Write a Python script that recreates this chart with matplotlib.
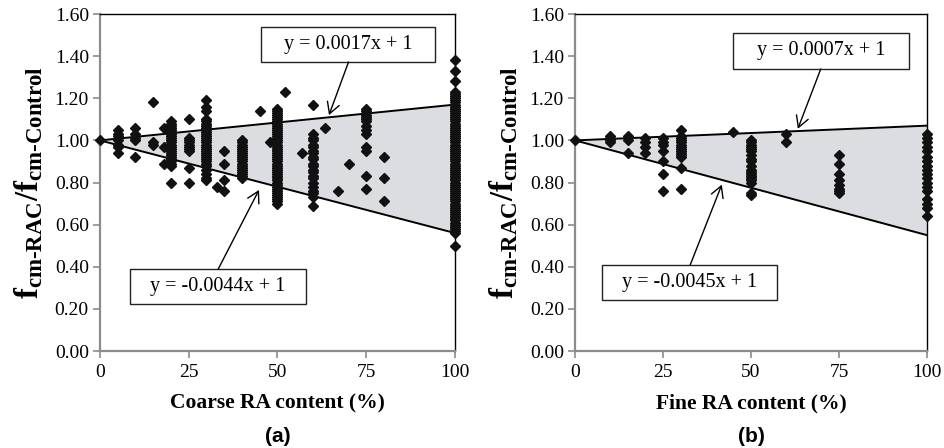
import matplotlib
matplotlib.use("Agg")
import matplotlib.pyplot as plt
from matplotlib.patches import Rectangle

plt.rcParams['font.family'] = ['Liberation Serif', 'DejaVu Serif']
plt.rcParams['mathtext.fontset'] = 'custom'
plt.rcParams['mathtext.rm'] = 'Liberation Serif'
plt.rcParams['mathtext.bf'] = 'Liberation Serif:bold'
plt.rcParams['mathtext.it'] = 'Liberation Serif:italic'

# ---- data: coarse RA replacement (a) ----
coarse_x = ([0] + [5] * 7 + [10] * 5 + [15] * 3 + [18] * 3 + [20] * 23 + [25] * 10
            + [30] * 30 + [33] + [35] * 4 + [40] * 19 + [45] + [48] + [50] * 46
            + [52] + [57] + [60] * 22 + [63.5] + [67] + [70] + [75] * 13 + [80] * 3
            + [100] * 72)
coarse_y = ([1.00]
            + [1.05, 1.03, 1.02, 1.00, 0.98, 0.97, 0.94]
            + [1.06, 1.03, 1.01, 1.00, 0.92]
            + [1.18, 0.99, 0.98]
            + [1.06, 0.97, 0.89]
            + [1.09, 1.08, 1.07, 1.06, 1.05, 1.04, 1.03, 1.02, 1.01, 1.00, 0.99, 0.98,
               0.97, 0.96, 0.95, 0.94, 0.93, 0.92, 0.91, 0.90, 0.89, 0.88, 0.80]
            + [1.10, 1.01, 1.00, 0.99, 0.98, 0.97, 0.96, 0.95, 0.87, 0.80]
            + [1.19, 1.16, 1.14, 1.10, 1.09, 1.08, 1.07, 1.06, 1.05, 1.04, 1.03, 1.02,
               1.01, 1.00, 0.99, 0.98, 0.97, 0.96, 0.95, 0.94, 0.93, 0.92, 0.91, 0.90,
               0.89, 0.88, 0.86, 0.84, 0.82, 0.81]
            + [0.78]
            + [0.95, 0.89, 0.81, 0.76]
            + [1.00, 0.99, 0.98, 0.97, 0.96, 0.95, 0.94, 0.93, 0.92, 0.91, 0.90, 0.89,
               0.88, 0.87, 0.86, 0.85, 0.84, 0.83, 0.82]
            + [1.14]
            + [0.99]
            + [1.15, 1.14, 1.13, 1.12, 1.11, 1.10, 1.09, 1.08, 1.07, 1.06, 1.05, 1.04,
               1.03, 1.02, 1.01, 1.00, 0.99, 0.98, 0.97, 0.96, 0.95, 0.94, 0.93, 0.92,
               0.91, 0.90, 0.89, 0.88, 0.87, 0.86, 0.85, 0.84, 0.83, 0.82, 0.81, 0.80,
               0.79, 0.78, 0.77, 0.76, 0.75, 0.74, 0.73, 0.72, 0.71, 0.70]
            + [1.23]
            + [0.94]
            + [1.17, 1.03, 1.01, 1.00, 0.98, 0.97, 0.95, 0.94, 0.92, 0.91, 0.89, 0.88,
               0.86, 0.85, 0.83, 0.82, 0.80, 0.78, 0.76, 0.75, 0.73, 0.69]
            + [1.06]
            + [0.76]
            + [0.89]
            + [1.15, 1.14, 1.12, 1.11, 1.10, 1.09, 1.07, 1.05, 1.03, 0.97, 0.95, 0.83, 0.77]
            + [0.92, 0.82, 0.71]
            + [1.38, 1.33, 1.28, 1.23, 1.22, 1.21, 1.20, 1.19, 1.18, 1.17, 1.16, 1.15,
               1.14, 1.13, 1.12, 1.11, 1.10, 1.09, 1.08, 1.07, 1.06, 1.05, 1.04, 1.03,
               1.02, 1.01, 1.00, 0.99, 0.98, 0.97, 0.96, 0.95, 0.94, 0.93, 0.92, 0.91,
               0.90, 0.89, 0.88, 0.87, 0.86, 0.85, 0.84, 0.83, 0.82, 0.81, 0.80, 0.79,
               0.78, 0.77, 0.76, 0.75, 0.74, 0.73, 0.72, 0.71, 0.70, 0.69, 0.68, 0.67,
               0.66, 0.65, 0.64, 0.63, 0.62, 0.61, 0.60, 0.59, 0.58, 0.57, 0.56, 0.50])

# ---- data: fine RA replacement (b) ----
fine_x = ([0] + [10] * 4 + [15] * 3 + [20] * 4 + [25] * 7 + [30] * 14 + [45]
          + [50] * 19 + [60] * 2 + [75] * 8 + [100] * 18)
fine_y = ([1.00]
          + [1.02, 1.01, 1.00, 0.99]
          + [1.02, 1.00, 0.94]
          + [1.01, 0.99, 0.97, 0.94]
          + [1.01, 0.99, 0.98, 0.95, 0.90, 0.84, 0.76]
          + [1.05, 1.02, 1.01, 1.00, 0.99, 0.98, 0.97, 0.96, 0.95, 0.94, 0.93, 0.92,
             0.87, 0.77]
          + [1.04]
          + [1.00, 0.99, 0.98, 0.97, 0.96, 0.95, 0.93, 0.91, 0.90, 0.88, 0.86, 0.85,
             0.84, 0.83, 0.82, 0.81, 0.80, 0.75, 0.74]
          + [1.03, 0.99]
          + [0.93, 0.89, 0.84, 0.81, 0.79, 0.77, 0.76, 0.75]
          + [1.03, 1.01, 0.99, 0.97, 0.95, 0.92, 0.90, 0.88, 0.86, 0.84, 0.82, 0.80,
             0.78, 0.76, 0.72, 0.70, 0.68, 0.64])

# envelope slopes (upper, lower)
coarse_slopes = (0.0017, -0.0044)
fine_slopes = (0.0007, -0.0045)

x_ticks = [0, 25, 50, 75, 100]
y_ticks = [0.0, 0.2, 0.4, 0.6, 0.8, 1.0, 1.2, 1.4, 1.6]

fig = plt.figure(figsize=(9.45, 4.48), dpi=100)

panels = [
    dict(rect=[0.1058, 0.2165, 0.3757, 0.7522], x=coarse_x, y=coarse_y,
         slopes=coarse_slopes, xlabel='Coarse RA content (%)', tag='(a)',
         up_box=(45.4, 1.372, 94.4, 1.538), up_from=(70.0, 1.372), up_to=(64.5, 1.12),
         lo_box=(8.45, 0.223, 58.0, 0.389), lo_from=(33.3, 0.389), lo_to=(44.8, 0.765)),
    dict(rect=[0.6085, 0.2165, 0.3725, 0.7522], x=fine_x, y=fine_y,
         slopes=fine_slopes, xlabel='Fine RA content (%)', tag='(b)',
         up_box=(44.9, 1.339, 94.9, 1.51), up_from=(69.8, 1.339), up_to=(63.3, 1.055),
         lo_box=(7.7, 0.242, 57.4, 0.408), lo_from=(32.7, 0.408), lo_to=(41.7, 0.79)),
]

gray = '#8c8c8c'
hy = '\u2010'
ylabel = ('$\\mathbf{f}_{\\mathbf{cm' + hy + 'RAC}}\\mathbf{/f}_{\\mathbf{cm'
          + hy + 'Control}}$')

for p in panels:
    ax = fig.add_axes(p['rect'])
    a_up, a_lo = p['slopes']
    xs = [0, 100]
    up = [1 + a_up * v for v in xs]
    lo = [1 + a_lo * v for v in xs]
    ax.fill_between(xs, lo, up, color='#dcdde0', zorder=1, lw=0)
    ax.plot(xs, up, color='black', lw=1.4, zorder=2)
    ax.plot(xs, lo, color='black', lw=1.4, zorder=2)
    ax.plot(p['x'], p['y'], linestyle='none', marker='D', ms=4.9,
            color='#111111', zorder=3, clip_on=False)

    ax.set_xlim(0, 100)
    ax.set_ylim(0, 1.6)
    ax.set_xticks(x_ticks)
    ax.set_yticks(y_ticks)
    ax.set_yticklabels([f'{v:.2f}' for v in y_ticks])
    ax.tick_params(direction='out', length=5, width=1.2, color=gray,
                   labelsize=14, pad=3)
    ax.tick_params(axis='x', pad=4)
    for s in ('left', 'bottom'):
        ax.spines[s].set_color(gray)
        ax.spines[s].set_linewidth(1.6)
    for s in ('top', 'right'):
        ax.spines[s].set_color('black')
        ax.spines[s].set_linewidth(1.0)

    ax.set_xlabel(p['xlabel'], fontsize=15.5, fontweight='bold', labelpad=9)
    ax.set_ylabel(ylabel, fontsize=23.5, labelpad=7)
    ax.text(0.5, -0.225, p['tag'], transform=ax.transAxes, ha='center', va='top',
            fontsize=15, fontweight='bold', family=['Liberation Sans', 'DejaVu Sans'])

    # equation boxes with arrows
    for box, src, dst, slope in ((p['up_box'], p['up_from'], p['up_to'], a_up),
                                 (p['lo_box'], p['lo_from'], p['lo_to'], a_lo)):
        x0, y0, x1, y1 = box
        ax.add_patch(Rectangle((x0, y0), x1 - x0, y1 - y0, facecolor='white',
                               edgecolor='#222222', lw=1.0, zorder=4))
        sign = '' if slope >= 0 else '-'
        ax.text((x0 + x1) / 2, (y0 + y1) / 2, f'y = {sign}{abs(slope):.4f}x + 1',
                ha='center', va='center', fontsize=14.5, zorder=5)
        ax.annotate('', xy=dst, xytext=src,
                    arrowprops=dict(arrowstyle='->,head_length=0.8,head_width=0.45',
                                    color='black', lw=1.0, shrinkA=0, shrinkB=0),
                    zorder=5)

fig.savefig('out.png', dpi=100)
